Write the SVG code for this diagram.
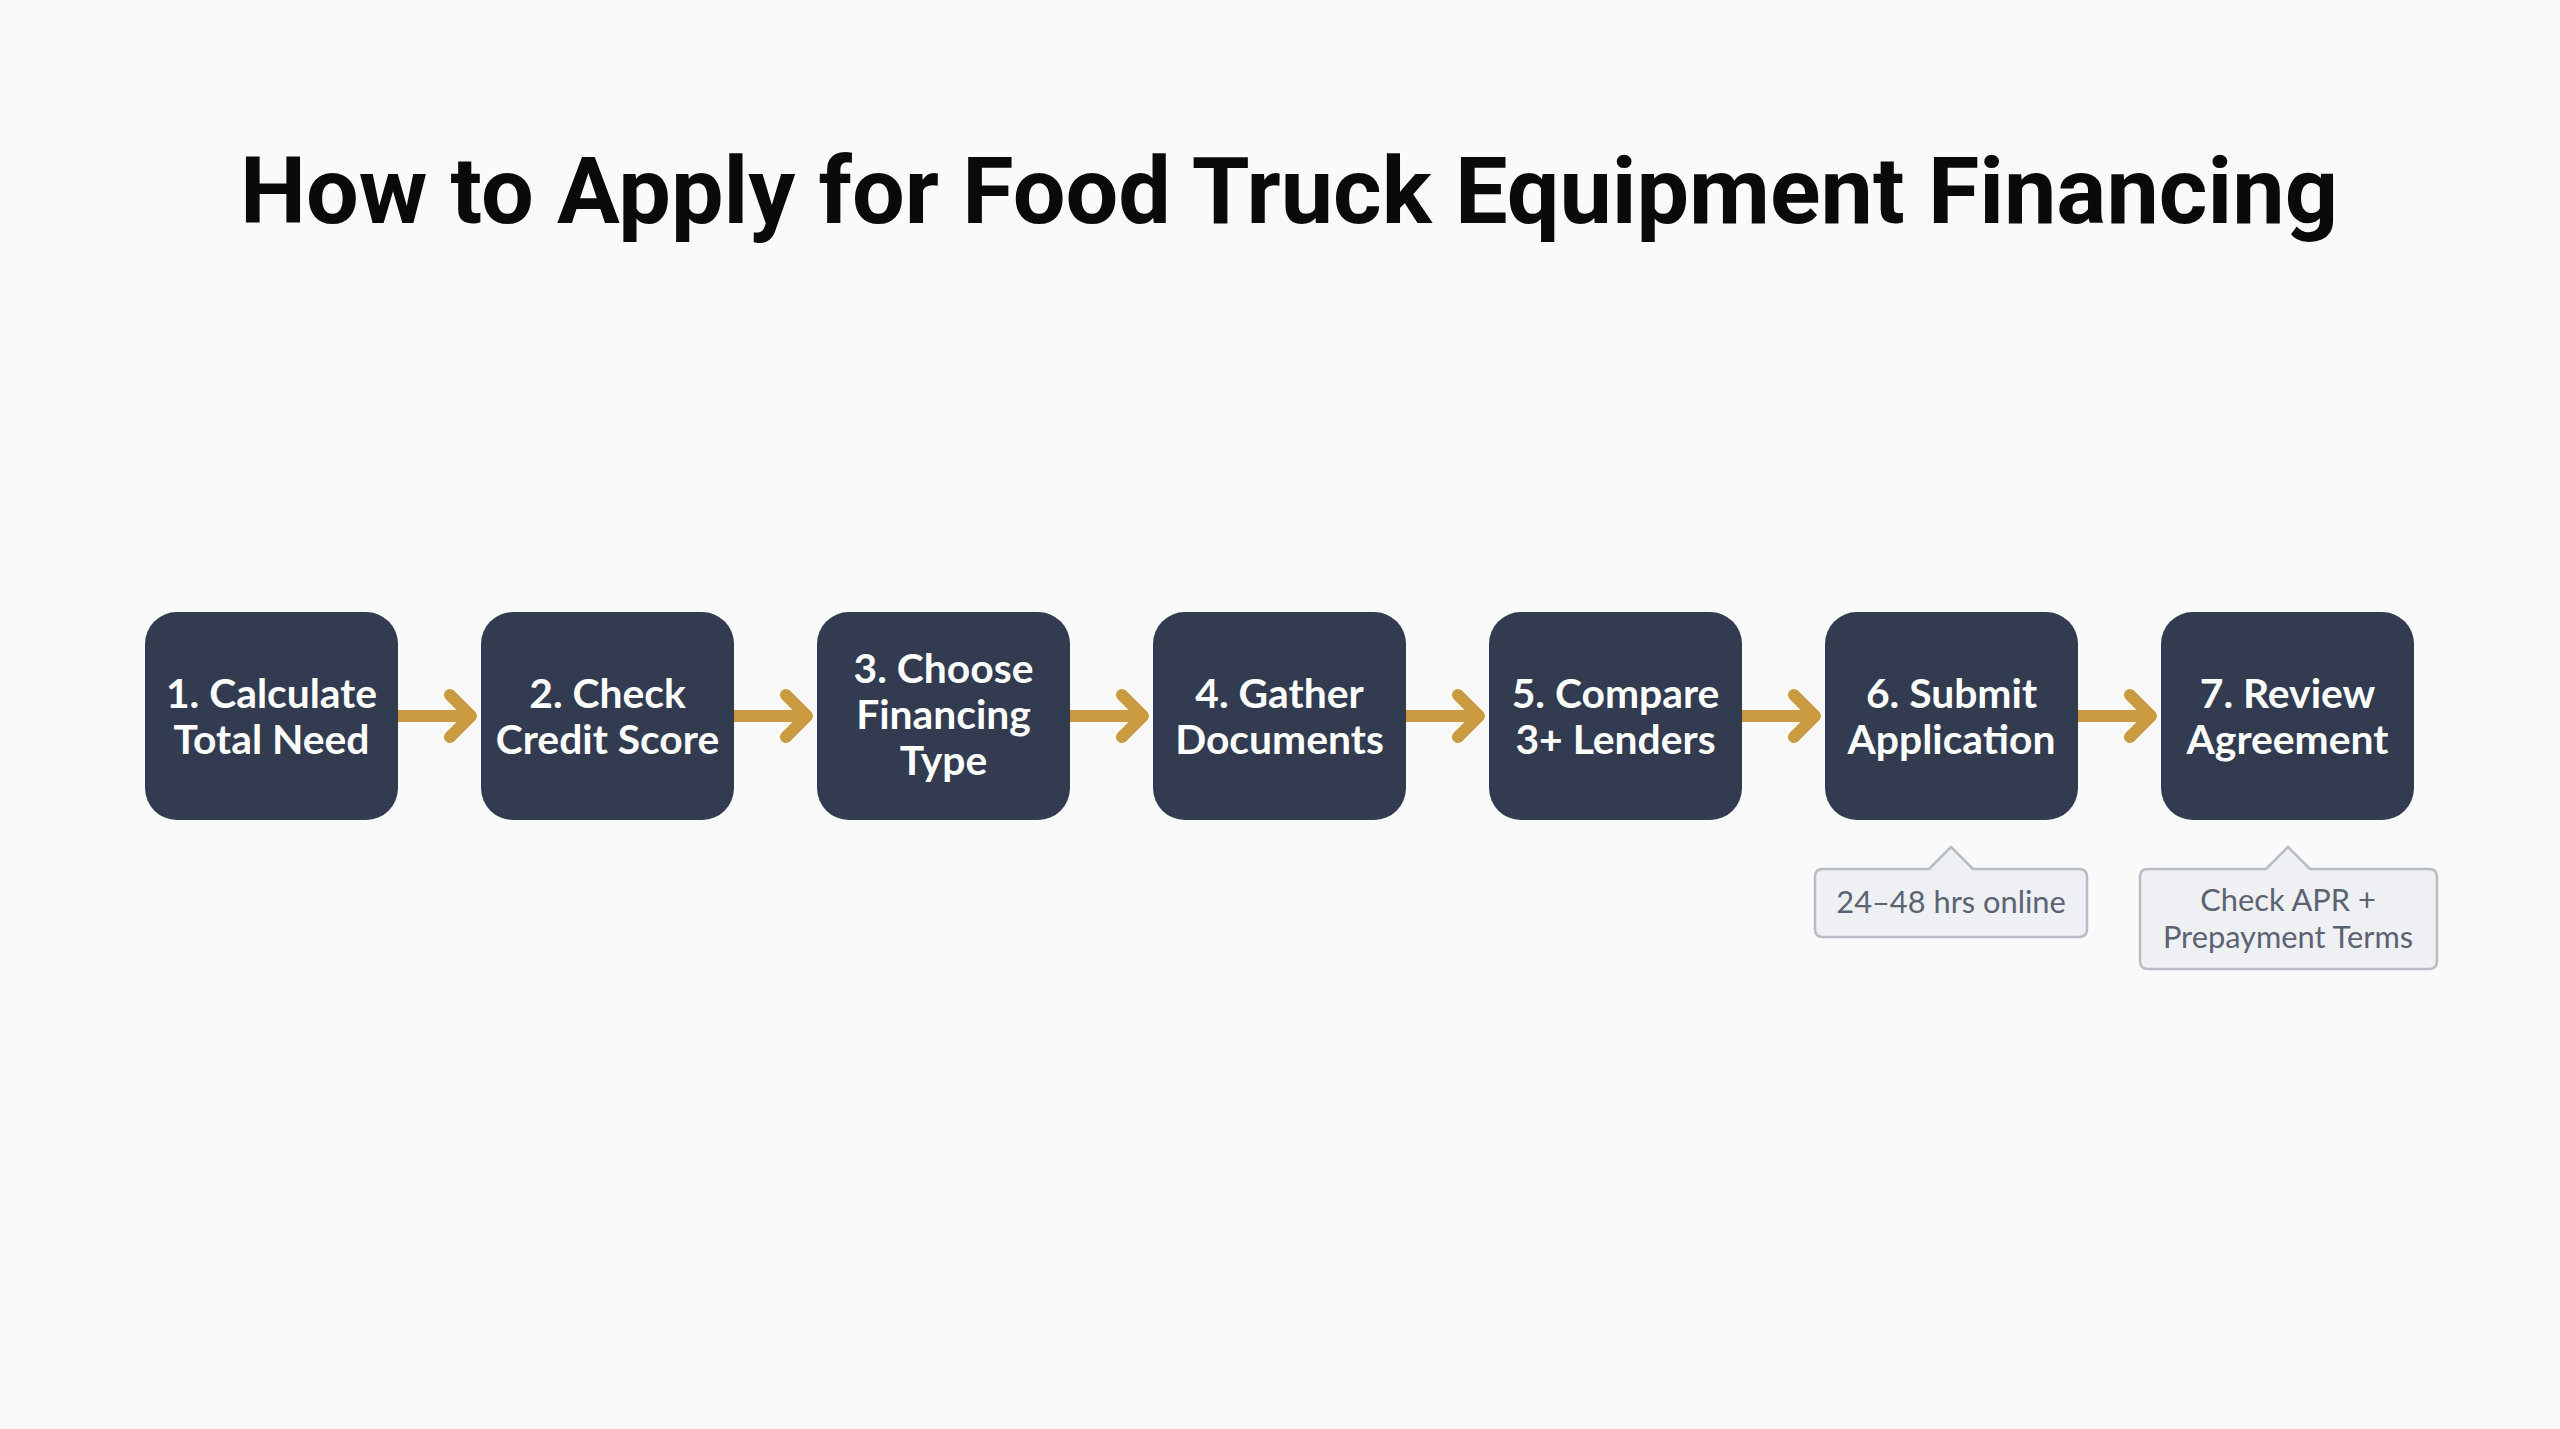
<svg xmlns="http://www.w3.org/2000/svg" width="2560" height="1429" viewBox="0 0 2560 1429">
  <defs>
    <style>
      .title { font-family: Roboto, "Liberation Sans", sans-serif; font-weight: 700; font-size: 93.5px; fill: #0a0a0a; }
      .box { fill: #323b50; }
      .lbl { font-family: Lato, "Open Sans", "Liberation Sans", sans-serif; font-weight: 700; font-size: 40.8px; fill: #ffffff; text-anchor: middle; }
      .arrow { fill: none; stroke: #c99a40; stroke-width: 12; stroke-linecap: round; stroke-linejoin: round; }
      .callout { fill: #eef0f3; stroke: #b9bdc5; stroke-width: 2.5; stroke-linejoin: round; }
      .note { font-family: Lato, "Open Sans", "Liberation Sans", sans-serif; font-weight: 400; font-size: 30.8px; fill: #5b6372; text-anchor: middle; }
    </style>
  </defs>
  <rect x="0" y="0" width="2560" height="1429" fill="#fafafa"/>
  <text class="title" x="1289" y="223" text-anchor="middle">How to Apply for Food Truck Equipment Financing</text>

  <g id="connectors">
    <path class="arrow" d="M398 716 H470 M450 695 L471 716 L450 737"/>
    <path class="arrow" d="M734 716 H806 M786 695 L807 716 L786 737"/>
    <path class="arrow" d="M1070 716 H1142 M1122 695 L1143 716 L1122 737"/>
    <path class="arrow" d="M1406 716 H1478 M1458 695 L1479 716 L1458 737"/>
    <path class="arrow" d="M1742 716 H1814 M1794 695 L1815 716 L1794 737"/>
    <path class="arrow" d="M2078 716 H2150 M2130 695 L2151 716 L2130 737"/>
  </g>

  <g id="node1">
    <rect class="box" x="145" y="612" width="253" height="208" rx="32"/>
    <text class="lbl" x="271.5" y="708">1. Calculate</text>
    <text class="lbl" x="271.5" y="754">Total Need</text>
  </g>
  <g id="node2">
    <rect class="box" x="481" y="612" width="253" height="208" rx="32"/>
    <text class="lbl" x="607.5" y="708">2. Check</text>
    <text class="lbl" x="607.5" y="754">Credit Score</text>
  </g>
  <g id="node3">
    <rect class="box" x="817" y="612" width="253" height="208" rx="32"/>
    <text class="lbl" x="943.5" y="683">3. Choose</text>
    <text class="lbl" x="943.5" y="729">Financing</text>
    <text class="lbl" x="943.5" y="775">Type</text>
  </g>
  <g id="node4">
    <rect class="box" x="1153" y="612" width="253" height="208" rx="32"/>
    <text class="lbl" x="1279.5" y="708">4. Gather</text>
    <text class="lbl" x="1279.5" y="754">Documents</text>
  </g>
  <g id="node5">
    <rect class="box" x="1489" y="612" width="253" height="208" rx="32"/>
    <text class="lbl" x="1615.5" y="708">5. Compare</text>
    <text class="lbl" x="1615.5" y="754">3+ Lenders</text>
  </g>
  <g id="node6">
    <rect class="box" x="1825" y="612" width="253" height="208" rx="32"/>
    <text class="lbl" x="1951.5" y="708">6. Submit</text>
    <text class="lbl" x="1951.5" y="754">Application</text>
  </g>
  <g id="node7">
    <rect class="box" x="2161" y="612" width="253" height="208" rx="32"/>
    <text class="lbl" x="2287.5" y="708">7. Review</text>
    <text class="lbl" x="2287.5" y="754">Agreement</text>
  </g>

  <g id="note6">
    <path class="callout" d="M1823 869 H1929 L1951 847 L1973 869 H2079 Q2087 869 2087 877 V929 Q2087 937 2079 937 H1823 Q1815 937 1815 929 V877 Q1815 869 1823 869 Z"/>
    <text class="note" x="1951" y="913">24–48 hrs online</text>
  </g>
  <g id="note7">
    <path class="callout" d="M2148 869 H2266 L2288 847 L2310 869 H2429 Q2437 869 2437 877 V961 Q2437 969 2429 969 H2148 Q2140 969 2140 961 V877 Q2140 869 2148 869 Z"/>
    <text class="note" x="2288" y="911">Check APR +</text>
    <text class="note" x="2288" y="948">Prepayment Terms</text>
  </g>
</svg>
